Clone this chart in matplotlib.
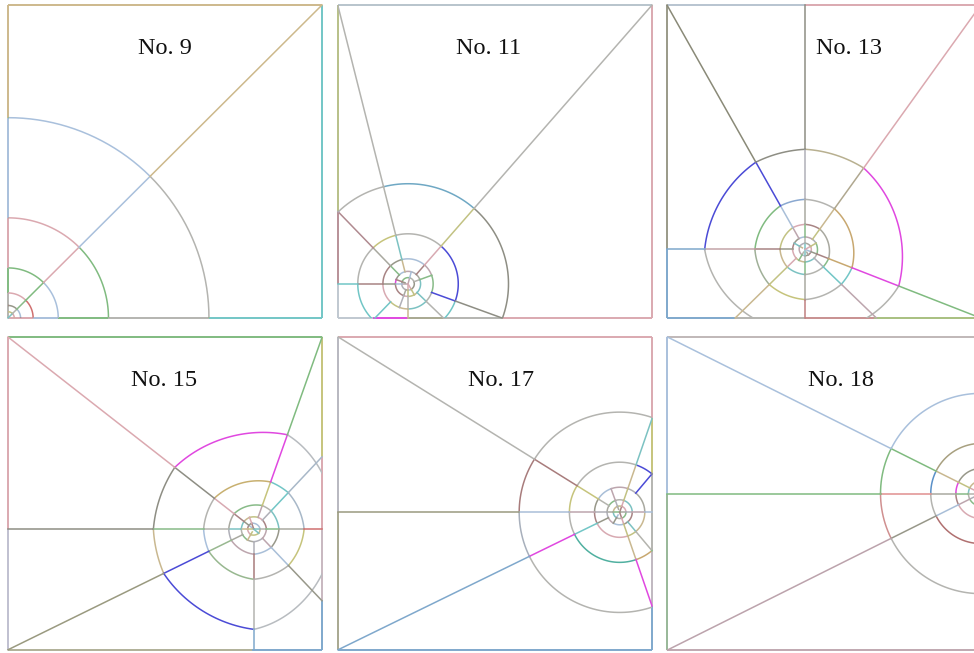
import numpy as np
import matplotlib.pyplot as plt

# panel titles and where the title sits (fraction of the square)
titles = ["No. 9", "No. 11", "No. 13", "No. 15", "No. 17", "No. 18"]
title_x = [0.50, 0.478, 0.58, 0.497, 0.52, 0.553]

# centre of each spiral web, as fraction of the square side
centres = [(0.0, 0.0), (0.223, 0.109), (0.44, 0.219),
           (0.783, 0.386), (0.897, 0.44), (1.0, 0.5)]

# ring radii, outermost first
radii_9 = [0.64, 0.32, 0.16, 0.08, 0.04, 0.02]
radii_std = [0.32, 0.16, 0.08, 0.04, 0.02]

# spokes: (angle in degrees, start radius, end radius or None = runs to the frame)
spokes_9 = [(0, 0.0, None), (45, 0.0, None), (90, 0.0, None)]
spokes_11 = [(48.9, 0.04, None), (104.1, 0.04, None), (134, 0.04, None),
             (180, 0.0, None), (226, 0.08, None), (270, 0.0, None),
             (316, 0.04, None), (340, 0.08, None),
             (20, 0.02, 0.08), (250, 0.02, 0.08), (75, 0.0, 0.04),
             (160, 0.01, 0.04), (300, 0.0, 0.04)]
spokes_13 = [(54.4, 0.04, None), (90, 0.0, None), (119.4, 0.04, None),
             (180, 0.04, None), (224.5, 0.04, None), (270, 0.0, None),
             (316, 0.04, None), (338.6, 0.0, None),
             (30, 0.0, 0.04), (150, 0.01, 0.04), (240, 0.01, 0.04),
             (300, 0.01, 0.02)]
spokes_15 = [(0, 0.0, None), (46.8, 0.04, None), (70.5, 0.04, None),
             (141.9, 0.0, None), (180, 0.0, None), (206.2, 0.04, None),
             (270, 0.04, None), (313.5, 0.04, None),
             (110, 0.0, 0.04), (240, 0.01, 0.04), (320, 0.0, 0.02)]
spokes_17 = [(0, 0.0, None), (50, 0.08, None), (71, 0.0, None),
             (148, 0.04, None), (180, 0.0, None), (206.1, 0.04, None),
             (289, 0.0, None), (310, 0.04, None),
             (110, 0.01, 0.08), (240, 0.01, 0.04)]
spokes_18 = [(90, 0.0, None), (153.4, 0.02, None), (180, 0.0, None),
             (206.6, 0.02, None), (270, 0.0, None)]

all_radii = [radii_9, radii_std, radii_std, radii_std, radii_std, radii_std]
all_spokes = [spokes_9, spokes_11, spokes_13, spokes_15, spokes_17, spokes_18]

# ---- styles ----
LB, TAN, GR, DG = "#a9c0dc", "#cdb98c", "#b4b4b0", "#8e8e84"
PK, GN, TL, MV = "#dba9b0", "#80bb80", "#72c6c6", "#bca3ac"
OL, BR, SB, MG = "#c6c47c", "#a87c7c", "#7fa8cc", "#e048e0"
BL, RD = "#4b4bd6", "#d07070"

PALETTE = ["#b4b4ae", "#a9bfd8", "#c9b890", "#b0b0b8", "#d8aab2", "#88bb88",
           "#98988a", "#7cc2c2", "#bda6ae", "#c2c283", "#a9a9a0", "#a88484"]

roundness = [1.0, 1.0, 0.8, 0.75, 1.0, 1.0]

# colour overrides: (angle, radius inside the piece, colour)
overrides = [
    [(67.5, 0.64, LB), (22.5, 0.64, GR), (67.5, 0.32, PK), (22.5, 0.32, GN),
     (67.5, 0.16, GN), (22.5, 0.16, LB), (67.5, 0.08, PK), (22.5, 0.08, RD),
     (45, 1.0, TAN), (45, 0.48, LB), (45, 0.24, PK), (45, 0.12, GN)],
    [(76, 0.32, "#6fa8c4"), (120, 0.32, GR), (14, 0.32, DG), (48.9, 0.42, GR),
     (104.1, 0.6, GR), (14, 0.16, BL), (340, 0.12, BL), (340, 0.25, DG),
     (76, 0.16, GR), (120, 0.16, OL), (157, 0.16, GR), (203, 0.16, TL),
     (134, 0.25, "#b08a90"), (180, 0.19, TL), (226, 0.12, TL),
     (270, 0.06, GR), (316, 0.1, GR), (165, 0.04, MG)],
    [(16.5, 0.32, MG), (72, 0.32, "#b8b090"), (105, 0.32, DG), (150, 0.32, BL),
     (260, 0.32, GR), (105, 0.16, "#8aa8d0"), (72, 0.16, GR),
     (16.5, 0.16, "#c8a870"), (327, 0.16, TL), (293, 0.16, GR),
     (247, 0.16, OL), (202, 0.16, "#a0b098"), (150, 0.16, GN),
     (119.4, 0.5, "#8a8a78"), (119.4, 0.24, BL), (90, 0.5, DG),
     (54.4, 0.5, PK), (54.4, 0.24, "#b0a890"), (180, 0.37, SB),
     (180, 0.24, "#c4a4a8"), (338.6, 0.45, GN), (338.6, 0.24, MG),
     (338.6, 0.12, "#c8a870"), (316, 0.12, TL), (270, 0.19, "#c08080")],
    [(58, 0.32, "#b8bcc0"), (106, 0.32, MG), (174, 0.32, DG), (238, 0.32, BL),
     (290, 0.32, GR), (58, 0.16, TL), (106, 0.16, "#c8b070"), (160, 0.16, GR),
     (193, 0.16, LB), (238, 0.16, "#98b890"), (292, 0.16, GR), (336, 0.16, OL),
     (23, 0.16, "#a8b8c8"), (141.9, 0.6, PK), (141.9, 0.24, DG),
     (70.5, 0.5, GN), (70.5, 0.24, MG), (70.5, 0.12, OL),
     (46.8, 0.24, "#a8b8c8"), (46.8, 0.12, TL), (0, 0.19, RD),
     (206.2, 0.5, "#9a9a80"), (206.2, 0.24, BL), (206.2, 0.12, "#98b890"),
     (270, 0.35, SB), (270, 0.24, GR), (270, 0.12, BR), (180, 0.5, DG)],
    [(110, 0.32, GR), (164, 0.32, BR), (193, 0.32, "#a8b0bc"), (248, 0.32, MG),
     (60, 0.16, BL), (110, 0.16, GR), (164, 0.16, OL), (193, 0.16, GR),
     (248, 0.16, "#50b0a0"), (300, 0.16, "#c8a870"), (148, 0.5, GR),
     (148, 0.24, BR), (148, 0.12, OL), (206.1, 0.5, SB), (206.1, 0.24, MG),
     (206.1, 0.12, TL), (50, 0.12, BL), (289, 0.24, MG), (180, 0.5, "#9a9a80")],
    [(120, 0.32, LB), (166, 0.32, GN), (193, 0.32, "#d09090"), (240, 0.32, GR),
     (166, 0.16, "#5a90c8"), (193, 0.16, GR), (120, 0.16, "#a8a080"),
     (240, 0.16, "#b07070"), (166, 0.08, MG), (153.4, 0.6, LB),
     (153.4, 0.24, GN), (180, 0.6, GN), (180, 0.24, "#e09090"),
     (206.6, 0.6, MV)],
]

# frame colours: stops along each edge (left->right, bottom->top)
frames = [
    {"top": [(0, TAN)], "right": [(0, TL)],
     "bottom": [(0, PK), (0.08, LB), (0.16, GN), (0.32, GR), (0.64, TL)],
     "left": [(0, GR), (0.08, GN), (0.16, PK), (0.32, LB), (0.64, TAN)]},
    {"top": [(0, "#b8c4cc")], "right": [(0, PK)],
     "bottom": [(0, "#c0c8d0"), (0.111, MG), (0.223, "#a8a890"), (0.334, GR), (0.522, PK)],
     "left": [(0, "#c0c8d0"), (0.109, "#b89098"), (0.34, "#b8c088")]},
    {"top": [(0, "#b8c4d0"), (0.44, PK)], "right": [(0, PK)],
     "bottom": [(0, SB), (0.215, GR), (0.44, "#c89090"), (0.66, "#a8c080")],
     "left": [(0, SB), (0.219, "#9a9a88")]},
    {"top": [(0, GN)],
     "right": [(0, SB), (0.16, "#c8b8c0"), (0.386, PK), (0.617, OL)],
     "bottom": [(0, "#b0b098"), (0.776, SB)],
     "left": [(0, "#c0c0d0"), (0.386, PK)]},
    {"top": [(0, PK)],
     "right": [(0, SB), (0.139, "#c0b8c0"), (0.318, GR), (0.562, OL), (0.742, PK)],
     "bottom": [(0, SB)],
     "left": [(0, "#a8a890"), (0.44, "#b8b8c0")]},
    {"top": [(0, "#c0b8b8")], "right": [(0, GR)], "bottom": [(0, "#c0a8b0")],
     "left": [(0, "#98b898"), (0.5, LB)]},
]

# panel placement in pixels (left, top), each square 314 x 313
col_left = [8, 338, 667]
row_top = [5, 337]
PW, PH = 314, 313
FW, FH = 974, 653
LW = 1.1


def frame_reach(cx, cy, a):
    c, s = np.cos(a), np.sin(a)
    ts = []
    if c > 1e-9:
        ts.append((1 - cx) / c)
    if c < -1e-9:
        ts.append(-cx / c)
    if s > 1e-9:
        ts.append((1 - cy) / s)
    if s < -1e-9:
        ts.append(-cy / s)
    return min(ts)


def in_span(a, a0, span):
    return ((a - a0) % 360) < span


fig = plt.figure(figsize=(FW / 100, FH / 100), dpi=100)

for i in range(6):
    l = col_left[i % 3]
    t = row_top[i // 3]
    ax = fig.add_axes([l / FW, 1 - (t + PH) / FH, PW / FW, PH / FH])
    ax.set_xlim(0, 1)
    ax.set_ylim(0, 1)
    ax.axis("off")

    cx, cy = centres[i]
    rad = all_radii[i]
    spk = all_spokes[i]
    ovs = overrides[i]
    k = roundness[i]
    counter = [i * 3]

    def next_colour():
        counter[0] += 5
        return PALETTE[counter[0] % len(PALETTE)]

    # frame
    for edge, stops in frames[i].items():
        for j, (s0, col) in enumerate(stops):
            s1 = stops[j + 1][0] if j + 1 < len(stops) else 1.0
            if edge == "top":
                xs, ys = [s0, s1], [1, 1]
            elif edge == "bottom":
                xs, ys = [s0, s1], [0, 0]
            elif edge == "left":
                xs, ys = [0, 0], [s0, s1]
            else:
                xs, ys = [1, 1], [s0, s1]
            ax.plot(xs, ys, color=col, lw=LW + 0.3, clip_on=False, zorder=1,
                    solid_capstyle="butt")

    # reach of every spoke
    reach = []
    for a, r0, r1 in spk:
        end = frame_reach(cx, cy, np.radians(a))
        if r1 is not None:
            end = min(end, r1)
        reach.append(end)

    # rings
    for r in rad:
        brk = sorted({a % 360 for (a, r0, r1), e in zip(spk, reach)
                      if r0 - 1e-9 <= r <= e + 1e-9})
        if not brk:
            brk = [0.0]
        n = len(brk)
        for j in range(n):
            a0 = brk[j]
            span = (brk[(j + 1) % n] - a0) % 360
            if span == 0:
                span = 360
            ts = np.linspace(0, 1, max(12, int(span / 2)))
            ang = np.radians(a0 + span * ts)
            px = cx + r * np.cos(ang)
            py = cy + r * np.sin(ang)
            if span <= 180 and k < 1:
                p0 = np.array([cx + r * np.cos(ang[0]), cy + r * np.sin(ang[0])])
                p1 = np.array([cx + r * np.cos(ang[-1]), cy + r * np.sin(ang[-1])])
                chx = p0[0] + ts * (p1[0] - p0[0])
                chy = p0[1] + ts * (p1[1] - p0[1])
                px = k * px + (1 - k) * chx
                py = k * py + (1 - k) * chy
            col = None
            for oa, orr, oc in ovs:
                if abs(orr - r) < 1e-6 and in_span(oa, a0, span):
                    col = oc
                    break
            if col is None:
                col = next_colour()
            ax.plot(px, py, color=col, lw=LW, zorder=2)

    # spokes
    for (a, r0, r1), end in zip(spk, reach):
        ar = np.radians(a)
        c, s = np.cos(ar), np.sin(ar)
        along_x = (abs(cy) < 1e-9 or abs(cy - 1) < 1e-9) and abs(s) < 1e-9
        along_y = (abs(cx) < 1e-9 or abs(cx - 1) < 1e-9) and abs(c) < 1e-9
        if along_x or along_y or end <= r0:
            continue
        cuts = [r0] + [r for r in sorted(rad) if r0 < r < end] + [end]
        for j in range(len(cuts) - 1):
            ra, rb = cuts[j], cuts[j + 1]
            col = None
            for oa, orr, oc in ovs:
                if abs((oa - a + 180) % 360 - 180) < 0.05 and ra < orr < rb:
                    col = oc
                    break
            if col is None:
                col = next_colour()
            ax.plot([cx + ra * c, cx + rb * c], [cy + ra * s, cy + rb * s],
                    color=col, lw=LW, zorder=3, clip_on=False)

    ax.text(title_x[i], 0.845, titles[i], ha="center", va="baseline",
            fontsize=17.5, family=["Liberation Serif", "DejaVu Serif"],
            color="#111111", zorder=5)

fig.savefig("out.png", dpi=100)
